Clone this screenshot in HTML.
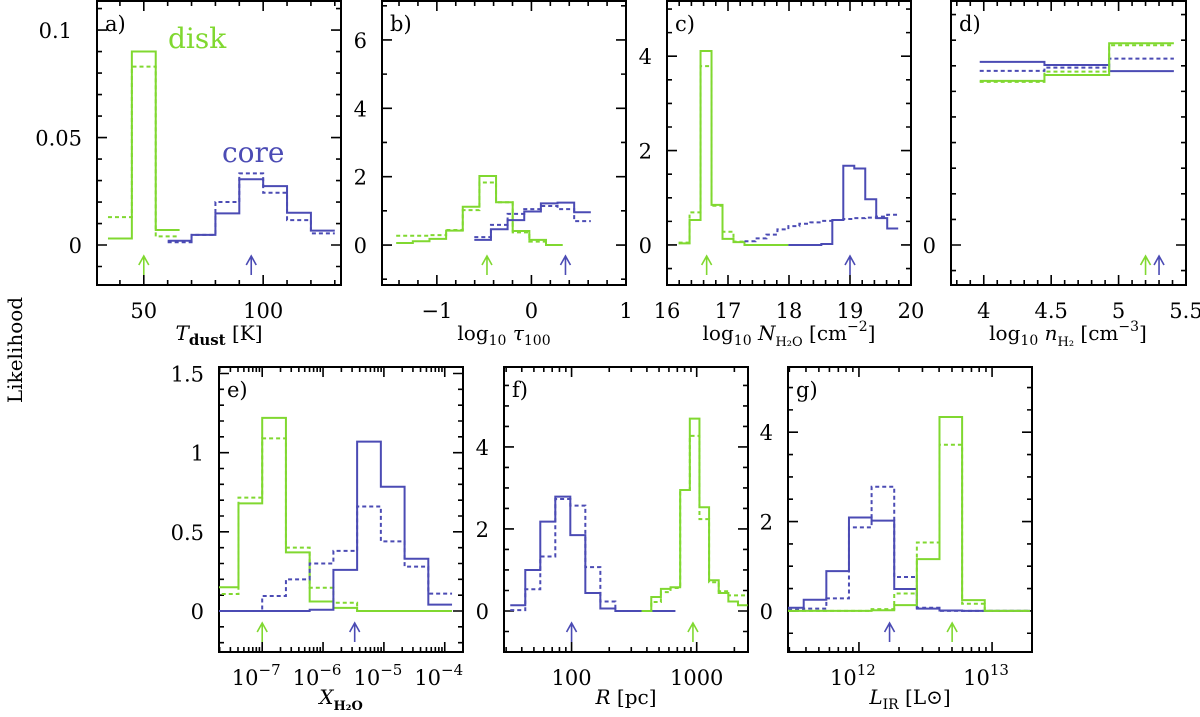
<!DOCTYPE html>
<html><head><meta charset="utf-8"><style>
html,body{margin:0;padding:0;background:#fff;}
svg{display:block;font-family:"DejaVu Serif","Liberation Serif",serif;}
</style></head><body>
<svg id="chart" xmlns="http://www.w3.org/2000/svg" width="1200" height="717" viewBox="0 0 1200 717">
<text transform="translate(22,350) rotate(-90)" text-anchor="middle" font-size="20">Likelihood</text>
<text x="219" y="340" text-anchor="middle" font-size="20"><tspan font-style="italic">T</tspan><tspan dy="5" font-size="15" font-weight="bold">dust</tspan><tspan dy="-5"> [K]</tspan></text>
<text x="504" y="340" text-anchor="middle" font-size="20">log<tspan dy="5" font-size="14">10</tspan><tspan dy="-5"> </tspan><tspan font-style="italic">τ</tspan><tspan dy="5" font-size="14">100</tspan></text>
<text x="789" y="340" text-anchor="middle" font-size="20">log<tspan dy="5" font-size="14">10</tspan><tspan dy="-5"> </tspan><tspan font-style="italic">N</tspan><tspan dy="6" font-size="13">H₂O</tspan><tspan dy="-6"> [cm</tspan><tspan dy="-9" font-size="14">−2</tspan><tspan dy="9">]</tspan></text>
<text x="1068" y="340" text-anchor="middle" font-size="20">log<tspan dy="5" font-size="14">10</tspan><tspan dy="-5"> </tspan><tspan font-style="italic">n</tspan><tspan dy="6" font-size="13">H₂</tspan><tspan dy="-6"> [cm</tspan><tspan dy="-9" font-size="14">−3</tspan><tspan dy="9">]</tspan></text>
<text x="341" y="704" text-anchor="middle" font-size="20"><tspan font-style="italic">X</tspan><tspan dy="6" font-size="13" font-weight="bold">H₂O</tspan></text>
<text x="626" y="704" text-anchor="middle" font-size="20"><tspan font-style="italic">R</tspan> [pc]</text>
<text x="910" y="704" text-anchor="middle" font-size="20"><tspan font-style="italic">L</tspan><tspan dy="5" font-size="14">IR</tspan><tspan dy="-5"> [L⊙]</tspan></text>
<text x="168" y="48" font-size="28" fill="#80d830">disk</text>
<text x="222" y="162" font-size="28" fill="#4b4bb4">core</text>
</svg>
<script>
// ---------- data ----------
// panel a: T_dust
const aGreenStart = 35, aGreenWidth = 10;
const aGreenSolid = [0.003, 0.090, 0.007];
const aGreenDot = [0.013, 0.083, 0.004];
const aBlueStart = 60, aBlueWidth = 10;
const aBlueSolid = [0.002, 0.0047, 0.0147, 0.0306, 0.0274, 0.015, 0.0067];
const aBlueDot = [0.0013, 0.0047, 0.020, 0.0333, 0.0243, 0.0116, 0.0054];
const aArrows = [50, 95];
const aXTicks = [50, 100];
const aXTickLabels = ["50", "100"];
const aYTicks = [0, 0.05, 0.1];
const aYTickLabels = ["0", "0.05", "0.1"];
// panel b: log tau100
const bGreenStart = -1.43, bGreenWidth = 0.176;
const bGreenSolid = [0.06, 0.11, 0.18, 0.42, 1.12, 2.02, 1.25, 0.41, 0.15, 0.0];
const bGreenDot = [0.27, 0.27, 0.29, 0.44, 1.02, 1.83, 1.25, 0.37, 0.10, 0.0];
const bBlueStart = -0.604, bBlueWidth = 0.176;
const bBlueSolid = [0.15, 0.46, 0.73, 0.98, 1.22, 1.24, 0.96];
const bBlueDot = [0.23, 0.59, 0.91, 1.05, 1.14, 1.05, 0.70];
const bArrows = [-0.47, 0.36];
const bXTicks = [-1, 0, 1];
const bXTickLabels = ["−1", "0", "1"];
const bYTicks = [0, 2, 4, 6];
const bYTickLabels = ["0", "2", "4", "6"];
// panel c: log N_H2O
const cGreenStart = 16.19, cGreenWidth = 0.18;
const cGreenSolid = [0.035, 0.53, 4.11, 0.85, 0.13, 0.06, 0, 0, 0, 0];
const cGreenDot = [0.05, 0.69, 3.79, 0.83, 0.28, 0.07];
const cBlueStart = 17.99, cBlueWidth = 0.18;
const cBlueSolid = [0, 0, 0, 0.02, 0.53, 1.68, 1.62, 0.97, 0.57, 0.35];
const cBlueDotStart = 17.27;
const cBlueDot = [0.08, 0.14, 0.22, 0.33, 0.40, 0.45, 0.48, 0.51, 0.53, 0.55, 0.57, 0.58, 0.60, 0.64];
const cArrows = [16.65, 19.0];
const cXTicks = [16, 17, 18, 19, 20];
const cXTickLabels = ["16", "17", "18", "19", "20"];
const cYTicks = [0, 2, 4];
const cYTickLabels = ["0", "2", "4"];
// panel d: log n_H2
const dStart = 3.97, dWidth = 0.48;
const dGreenSolid = [6.41, 6.64, 7.88];
const dGreenDot = [6.37, 6.77, 7.80];
const dBlueSolid = [7.15, 7.03, 6.79];
const dBlueDot = [6.80, 6.93, 7.28];
const dArrows = [5.2, 5.3];
const dXTicks = [4, 4.5, 5, 5.5];
const dXTickLabels = ["4", "4.5", "5", "5.5"];
const dYTicks = [0];
const dYTickLabels = ["0"];
// panel e: X_H2O (log10)
const eStart = -7.78, eWidth = 0.39;
const eGreenSolid = [0.15, 0.68, 1.22, 0.37, 0.06, 0.02, 0, 0, 0, 0];
const eGreenDot = [0.107, 0.716, 1.09, 0.40, 0.147, 0.052, 0, 0, 0, 0];
const eBlueSolid = [0, 0, 0, 0, 0.008, 0.26, 1.07, 0.785, 0.33, 0.04];
const eBlueDot = [0, 0, 0.095, 0.20, 0.30, 0.38, 0.66, 0.44, 0.28, 0.11];
const eArrows = [-7.0, -5.48];
const eXTicks = [-7, -6, -5, -4];
const eYTicks = [0, 0.5, 1, 1.5];
const eYTickLabels = ["0", "0.5", "1", "1.5"];
// panel f: R (log10 pc)
const fBlueStart = 1.51, fBlueWidth = 0.12;
const fBlueSolid = [0.14, 1.0, 2.18, 2.79, 1.85, 0.44, 0.06, 0, 0, 0, 0];
const fBlueDot = [0.02, 0.53, 1.33, 2.73, 2.57, 1.07, 0.23, 0];
const fGreenStart = 2.56, fGreenWidth = 0.077;
const fGreenSolid = [0, 0.34, 0.54, 0.58, 2.95, 4.69, 2.53, 0.75, 0.44, 0.23, 0.14];
const fGreenDot = [0, 0.22, 0.46, 0.56, 2.95, 4.27, 2.24, 0.70, 0.48, 0.38, 0.38];
const fArrows = [2.97, 2.0];
const fXTicks = [2, 3];
const fXTickLabels = ["100", "1000"];
const fYTicks = [0, 2, 4];
const fYTickLabels = ["0", "2", "4"];
// panel g: L_IR (log10 Lsun)
const gStart = 11.415, gWidth = 0.17;
const gBlueSolid = [0.07, 0.25, 0.89, 2.09, 2.02, 0.49, 0.05, 0.01, 0, 0, 0];
const gBlueDot = [0.03, 0.05, 0.28, 1.87, 2.78, 0.76, 0.07, 0, 0, 0, 0];
const gGreenSolid = [0, 0, 0, 0, 0.015, 0.13, 1.16, 4.34, 0.24, 0, 0];
const gGreenDot = [0, 0, 0, 0, 0.04, 0.39, 1.53, 3.72, 0.16, 0, 0];
const gArrows = [12.7, 12.23];
const gXTicks = [12, 13];
const gYTicks = [0, 2, 4];
const gYTickLabels = ["0", "2", "4"];

const GREEN = "#80d830", BLUE = "#4b4bb4";
const NS = "http://www.w3.org/2000/svg";
const svg = document.getElementById("chart");
function mk(tag, attrs, parent) {
  const e = document.createElementNS(NS, tag);
  for (const k in attrs) e.setAttribute(k, attrs[k]);
  (parent || svg).appendChild(e);
  return e;
}

const panels = [
  {id:"a", box:[97,1,341,285], x:[30.4,132.6], y:[-0.0186,0.1135], log:false, xMinor:10, yMinor:0.01,
   xt:aXTicks, xl:aXTickLabels, yt:aYTicks, yl:aYTickLabels, arrows:aArrows, arrowCols:[GREEN,BLUE],
   series:[[aGreenStart,aGreenWidth,aGreenSolid,GREEN,false,"green-solid"],[aGreenStart,aGreenWidth,aGreenDot,GREEN,true,"green-dotted"],
           [aBlueStart,aBlueWidth,aBlueSolid,BLUE,false,"blue-solid"],[aBlueStart,aBlueWidth,aBlueDot,BLUE,true,"blue-dotted"]]},
  {id:"b", box:[382,1,626,285], x:[-1.58,1.0], y:[-1.17,7.14], log:false, xMinor:0.2, yMinor:1,
   xt:bXTicks, xl:bXTickLabels, yt:bYTicks, yl:bYTickLabels, arrows:bArrows, arrowCols:[GREEN,BLUE],
   series:[[bGreenStart,bGreenWidth,bGreenSolid,GREEN,false,"green-solid"],[bGreenStart,bGreenWidth,bGreenDot,GREEN,true,"green-dotted"],
           [bBlueStart,bBlueWidth,bBlueSolid,BLUE,false,"blue-solid"],[bBlueStart,bBlueWidth,bBlueDot,BLUE,true,"blue-dotted"]]},
  {id:"c", box:[667,1,911,285], x:[16,20], y:[-0.848,5.17], log:false, xMinor:0.2, yMinor:0.5,
   xt:cXTicks, xl:cXTickLabels, yt:cYTicks, yl:cYTickLabels, arrows:cArrows, arrowCols:[GREEN,BLUE],
   series:[[cGreenStart,cGreenWidth,cGreenSolid,GREEN,false,"green-solid"],[cGreenStart,cGreenWidth,cGreenDot,GREEN,true,"green-dotted"],
           [cBlueStart,cBlueWidth,cBlueSolid,BLUE,false,"blue-solid"],[cBlueDotStart,cBlueWidth,cBlueDot,BLUE,true,"blue-dotted"]]},
  {id:"d", box:[951,1,1186,285], x:[3.757,5.5], y:[-1.5625,9.53], log:false, xMinor:0.1, yMinor:1,
   xt:dXTicks, xl:dXTickLabels, yt:dYTicks, yl:dYTickLabels, arrows:dArrows, arrowCols:[GREEN,BLUE],
   series:[[dStart,dWidth,dBlueSolid,BLUE,false,"blue-solid"],[dStart,dWidth,dBlueDot,BLUE,true,"blue-dotted"],
           [dStart,dWidth,dGreenSolid,GREEN,false,"green-solid"],[dStart,dWidth,dGreenDot,GREEN,true,"green-dotted"]]},
  {id:"e", box:[219,367,463,652], x:[-7.71,-3.70], y:[-0.259,1.541], log:true, yMinor:0.1,
   xt:eXTicks, xl:null, yt:eYTicks, yl:eYTickLabels, arrows:eArrows, arrowCols:[GREEN,BLUE],
   series:[[eStart,eWidth,eGreenSolid,GREEN,false,"green-solid"],[eStart,eWidth,eGreenDot,GREEN,true,"green-dotted"],
           [eStart,eWidth,eBlueSolid,BLUE,false,"blue-solid"],[eStart,eWidth,eBlueDot,BLUE,true,"blue-dotted"]]},
  {id:"f", box:[504,367,748,652], x:[1.46,3.41], y:[-1.0,5.95], log:true, yMinor:0.5,
   xt:fXTicks, xl:fXTickLabels, yt:fYTicks, yl:fYTickLabels, arrows:fArrows, arrowCols:[GREEN,BLUE],
   series:[[fBlueStart,fBlueWidth,fBlueSolid,BLUE,false,"blue-solid"],[fBlueStart,fBlueWidth,fBlueDot,BLUE,true,"blue-dotted"],
           [fGreenStart,fGreenWidth,fGreenSolid,GREEN,false,"green-solid"],[fGreenStart,fGreenWidth,fGreenDot,GREEN,true,"green-dotted"]]},
  {id:"g", box:[788,367,1032,652], x:[11.467,13.3], y:[-0.92,5.46], log:true, yMinor:0.5,
   xt:gXTicks, xl:null, yt:gYTicks, yl:gYTickLabels, arrows:gArrows, arrowCols:[GREEN,BLUE],
   series:[[gStart,gWidth,gBlueSolid,BLUE,false,"blue-solid"],[gStart,gWidth,gBlueDot,BLUE,true,"blue-dotted"],
           [gStart,gWidth,gGreenSolid,GREEN,false,"green-solid"],[gStart,gWidth,gGreenDot,GREEN,true,"green-dotted"]]}
];

panels.forEach(p => {
  const [L,T,R,B] = p.box;
  const sx = v => L + (v - p.x[0]) / (p.x[1] - p.x[0]) * (R - L);
  const sy = v => B - (v - p.y[0]) / (p.y[1] - p.y[0]) * (B - T);
  const g = mk("g", {});
  
  
  const cp = mk("clipPath", {id:"clip-" + p.id}, g);
  mk("rect", {x:L, y:T, width:R-L, height:B-T}, cp);

  // ticks
  let d = "";
  const tick = (x, len) => { d += `M${x},${B}V${B-len}M${x},${T}V${T+len}`; };
  const ytick = (y, len) => { d += `M${L},${y}H${L+len}M${R},${y}H${R-len}`; };
  if (p.log) {
    for (let dec = Math.floor(p.x[0]); dec <= Math.ceil(p.x[1]); dec++) {
      for (let m = 1; m <= 9; m++) {
        const lv = dec + Math.log10(m);
        if (lv > p.x[0] && lv < p.x[1]) tick(sx(lv), m === 1 ? 10 : 5);
      }
    }
  } else {
    const st = p.xMinor;
    for (let v = Math.ceil(p.x[0] / st) * st; v < p.x[1] + 1e-9; v += st) {
      const major = p.xt.some(t => Math.abs(t - v) < 1e-6);
      if (v > p.x[0] && v < p.x[1]) tick(sx(v), major ? 10 : 5);
    }
  }
  for (let v = Math.ceil(p.y[0] / p.yMinor) * p.yMinor; v < p.y[1]; v += p.yMinor) {
    const major = p.yt.some(t => Math.abs(t - v) < 1e-6);
    ytick(sy(v), major ? 10 : 5);
  }
  const tk = mk("path", {d:d, stroke:"#000", "stroke-width":1.6, fill:"none"}, g);
  
  

  // frame
  const fr = mk("rect", {x:L, y:T, width:R-L, height:B-T, fill:"none", stroke:"#000", "stroke-width":2}, g);
  
  

  // x tick labels
  const ly = B + 33;
  p.xt.forEach((v, i) => {
    const t = mk("text", {x:sx(v), y:ly, "text-anchor":"middle", "font-size":21}, g);
    
    
    if (p.xl) { t.textContent = p.xl[i]; }
    else {
      t.setAttribute("x", sx(v) - 6);
      t.textContent = "10";
      const s = mk("tspan", {dy:-10, "font-size":15}, t);
      s.textContent = String(v).replace("-", "−");
    }
  });
  // y tick labels
  p.yt.forEach((v, i) => {
    const gap = (p.id === "a" && v === 0.1) ? 25 : 15;
    const t = mk("text", {x:L - gap, y:sy(v) + 8, "text-anchor":"end", "font-size":21}, g);
    
    
    t.textContent = p.yl[i];
  });
  // panel letter
  const pl = mk("text", {x:L + 8, y:T + 30, "font-size":21}, g);
  
  
  pl.textContent = p.id + ")";

  // histograms
  const hg = mk("g", {"clip-path":`url(#clip-${p.id})`}, g);
  p.series.forEach(s => {
    const [start, w, vals, col, dotted, nm] = s;
    let pd = `M${sx(start)},${sy(vals[0])}`;
    vals.forEach((v, i) => {
      pd += `V${sy(v)}H${sx(start + (i + 1) * w)}`;
    });
    const path = mk("path", {d:pd, fill:"none", stroke:col, "stroke-width":2}, hg);
    if (dotted) path.setAttribute("stroke-dasharray", "4 3");
    
    
  });

  // arrows
  const ay0 = B - 10, ay1 = B - 29;
  p.arrows.forEach((v, i) => {
    const x = sx(v);
    const a = mk("path", {d:`M${x},${ay0}V${ay1}M${x-5},${ay1+9}L${x},${ay1}L${x+5},${ay1+9}`, fill:"none", stroke:p.arrowCols[i], "stroke-width":1.6}, g);
    
    
  });
});
</script>
</body></html>
